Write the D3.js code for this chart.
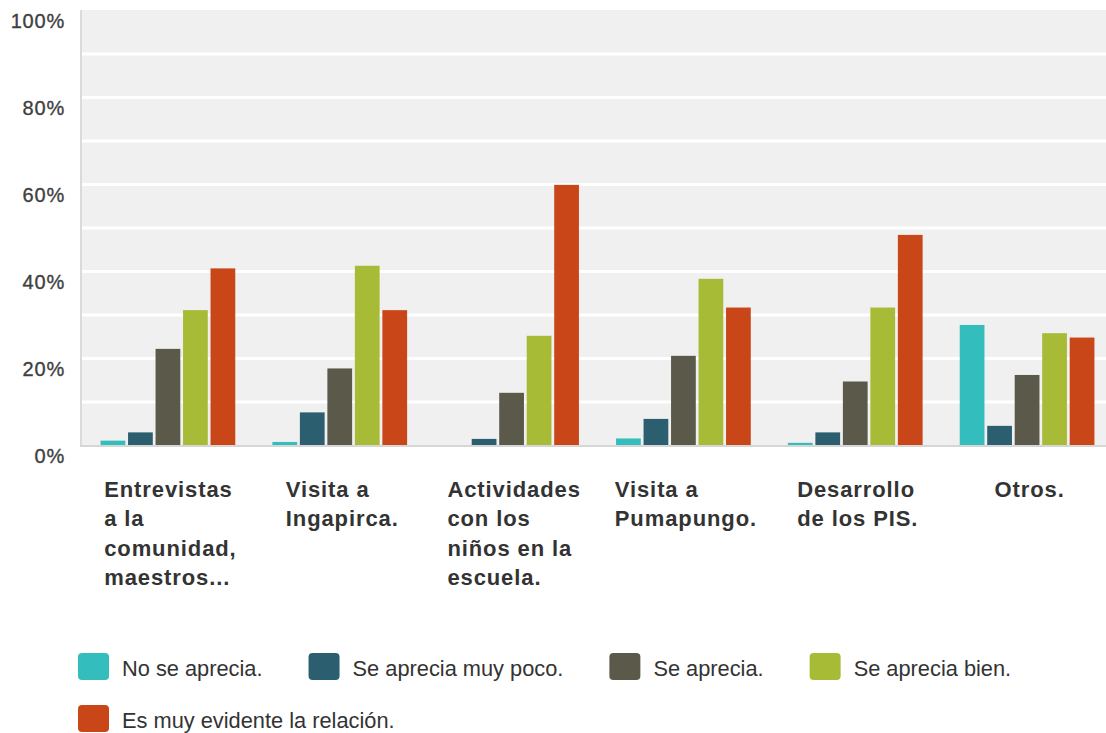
<!DOCTYPE html>
<html>
<head>
<meta charset="utf-8">
<script src="https://cdn.jsdelivr.net/npm/d3@7"></script>
<style>
  html, body { margin: 0; padding: 0; background: #fff; }
  svg { display: block; font-family: "Liberation Sans", Arial, sans-serif; }
</style>
</head>
<body>
<svg id="chart" width="1106" height="733"></svg>
<script>
// categories (with the line breaks used under the axis)
const categories = [
  "Entrevistas a la comunidad, maestros...",
  "Visita a Ingapirca.",
  "Actividades con los niños en la escuela.",
  "Visita a Pumapungo.",
  "Desarrollo de los PIS.",
  "Otros."
];
const categoryLines = [
  ["Entrevistas", "a la", "comunidad,", "maestros..."],
  ["Visita a", "Ingapirca."],
  ["Actividades", "con los", "niños en la", "escuela."],
  ["Visita a", "Pumapungo."],
  ["Desarrollo", "de los PIS."],
  ["Otros."]
];

const seriesNames = [
  "No se aprecia.",
  "Se aprecia muy poco.",
  "Se aprecia.",
  "Se aprecia bien.",
  "Es muy evidente la relación."
];
const seriesColors = ["#33bdbd", "#2b5e6e", "#5b5a4a", "#a8bb36", "#c94619"];

// percent values, one array per series (same order as categories)
const noSeAprecia   = [1.0, 0.7, 0, 1.5, 0.5, 27.6];
const muyPoco       = [2.9, 7.5, 1.4, 6.0, 2.9, 4.4];
const seAprecia     = [22.1, 17.6, 12.0, 20.5, 14.6, 16.1];
const aprecieBien   = [31.0, 41.2, 25.1, 38.2, 31.6, 25.7];
const muyEvidente   = [40.6, 31.0, 59.8, 31.6, 48.3, 24.7];
const seriesValues = [noSeAprecia, muyPoco, seAprecia, aprecieBien, muyEvidente];

const yTicks = [0, 20, 40, 60, 80, 100];
const gridTicks = [10, 20, 30, 40, 50, 60, 70, 80, 90];

const svg = d3.select("#chart");

const plot = { left: 82, right: 1113, top: 10, bottom: 445 };

const x0 = d3.scaleBand()
  .domain(d3.range(categories.length))
  .range([plot.left, plot.right])
  .paddingInner(0.2)
  .paddingOuter(0.1);

const x1 = d3.scaleBand()
  .domain(d3.range(seriesNames.length))
  .range([0, x0.bandwidth()])
  .paddingInner(0.1)
  .paddingOuter(0.05);

const y = d3.scaleLinear()
  .domain([0, 100])
  .range([plot.bottom, plot.top]);

// background
svg.append("rect")
  .attr("x", plot.left)
  .attr("y", plot.top)
  .attr("width", plot.right - plot.left)
  .attr("height", plot.bottom - plot.top)
  .attr("fill", "#f0f0f0");

// grid lines
const grid = svg.append("g")
  .attr("transform", `translate(${plot.left},0)`)
  .call(d3.axisLeft(y).tickValues(gridTicks).tickSize(-(plot.right - plot.left)).tickFormat(""));
grid.select(".domain").remove();
grid.selectAll("line").attr("stroke", "#ffffff").attr("stroke-width", 3);

// axis lines
svg.append("line")
  .attr("x1", plot.left - 1).attr("x2", plot.left - 1)
  .attr("y1", plot.top).attr("y2", plot.bottom + 2)
  .attr("stroke", "#dadada").attr("stroke-width", 2);
svg.append("line")
  .attr("x1", plot.left - 2).attr("x2", plot.right)
  .attr("y1", plot.bottom + 1).attr("y2", plot.bottom + 1)
  .attr("stroke", "#d6d6d6").attr("stroke-width", 2);

// y axis labels
const yAxis = svg.append("g")
  .attr("transform", "translate(65,0)")
  .call(d3.axisLeft(y).tickValues(yTicks).tickSize(0).tickPadding(0).tickFormat(d => d + "%"));
yAxis.select(".domain").remove();
yAxis.selectAll("text")
  .attr("dy", 17)
  .attr("font-size", 20)
  .attr("letter-spacing", 0.8)
  .attr("font-family", "Liberation Sans, Arial, sans-serif")
  .attr("stroke", "#3f3f3f")
  .attr("stroke-width", 0.35)
  .attr("fill", "#3f3f3f");

// bars
const groups = svg.append("g").selectAll("g")
  .data(categories)
  .join("g")
  .attr("transform", (d, i) => `translate(${x0(i)},0)`);

groups.selectAll("rect")
  .data((d, i) => seriesValues.map((vals, s) => ({ s, v: vals[i] })))
  .join("rect")
  .attr("x", d => x1(d.s))
  .attr("width", x1.bandwidth())
  .attr("y", d => y(d.v))
  .attr("height", d => y(0) - y(d.v))
  .attr("fill", d => seriesColors[d.s]);

// category labels: left-aligned lines, block centred on the group
const labelG = svg.append("g");
categoryLines.forEach((lines, i) => {
  const t = labelG.append("text")
    .attr("font-size", 22)
    .attr("font-weight", "bold")
    .attr("letter-spacing", 0.9)
    .attr("fill", "#333");
  lines.forEach((ln, k) => {
    t.append("tspan").attr("x", 0).attr("y", 497 + k * 29.4).text(ln);
  });
  const w = d3.max(t.selectAll("tspan").nodes(), n => n.getComputedTextLength());
  const cx = x0(i) + x0.bandwidth() / 2;
  t.selectAll("tspan").attr("x", cx - w / 2 + 2.5);
});

// legend (flow layout)
const legend = svg.append("g");
let lx = 78, ly = 653;
seriesNames.forEach((name, s) => {
  const item = legend.append("g");
  item.append("rect")
    .attr("width", 31).attr("height", 27).attr("rx", 4)
    .attr("fill", seriesColors[s]);
  const txt = item.append("text")
    .attr("x", 44).attr("y", 23)
    .attr("font-size", 21.8)
    .attr("fill", "#333")
    .text(name);
  const w = 44 + txt.node().getComputedTextLength();
  if (lx + w > 1060) { lx = 78; ly += 52; }
  item.attr("transform", `translate(${lx},${ly})`);
  lx += w + 46;
});
</script>
</body>
</html>
